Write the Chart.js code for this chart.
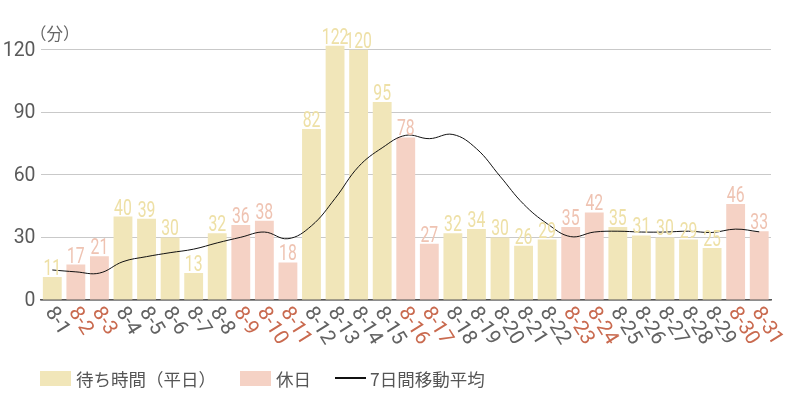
<!DOCTYPE html>
<html><head><meta charset="utf-8">
<script src="https://cdn.jsdelivr.net/npm/chart.js@4"></script>
<style>
html,body{margin:0;padding:0;background:#fff;}
#wrap{position:relative;width:800px;height:400px;}
#legend{position:absolute;left:0;top:367px;width:800px;height:22px;font-family:"Noto Sans CJK JP",sans-serif;font-size:17.5px;color:#555;}
#legend .it{position:absolute;top:0;display:flex;align-items:center;height:22px;white-space:nowrap;}
#legend .bx{width:31px;height:15px;margin-right:5px;}
#legend .ln{width:31px;height:2px;background:#111;margin-right:4px;}
</style></head>
<body><div id="wrap"><canvas id="c"></canvas><div id="legend"></div></div>
<script>
const dayLabels = ['8-1','8-2','8-3','8-4','8-5','8-6','8-7','8-8','8-9','8-10','8-11','8-12','8-13','8-14','8-15','8-16','8-17','8-18','8-19','8-20','8-21','8-22','8-23','8-24','8-25','8-26','8-27','8-28','8-29','8-30','8-31'];
const waitMinutes = [11,17,21,40,39,30,13,32,36,38,18,82,122,120,95,78,27,32,34,30,26,29,35,42,35,31,30,29,25,46,33];
const holidayDays = ['8-2','8-3','8-9','8-10','8-11','8-16','8-17','8-23','8-24','8-30','8-31'];
const movingAvg7 = [14.4,13.5,12.9,18.4,20.8,22.7,24.4,27.4,30.1,32.6,29.4,35.6,48.7,64.0,73.0,79.0,77.4,79.4,72.6,59.4,46.0,36.6,30.4,32.6,33.0,32.6,32.6,33.0,32.4,34.0,32.7];
const yTicks = [0,30,60,90,120];
const seriesNames = ['待ち時間（平日）','休日','7日間移動平均'];
const unitLabel = '（分）';

const weekdayColor = '#f1e6b9', holidayColor = '#f5d2c5';
const weekdayText = '#eee0a6', holidayText = '#efc3b2';
const tickGray = '#5a5a5a', xGray = '#626262', tickRed = '#c96a4f';
const numFont = 'Roboto,"Noto Sans",sans-serif';

const isHol = d => holidayDays.includes(d);
const weekdayData = waitMinutes.map((v,i)=> isHol(dayLabels[i]) ? null : v);
const holidayData = waitMinutes.map((v,i)=> isHol(dayLabels[i]) ? v : null);

function narrowText(ctx, text, x, y, sx){
  ctx.save();
  ctx.translate(x, y);
  ctx.scale(sx, 1);
  ctx.fillText(text, 0, 0);
  ctx.restore();
}

const labelPlugin = {
  id:'labels',
  afterDatasetsDraw(chart){
    const ctx = chart.ctx;
    const x = chart.scales.x, y = chart.scales.y;
    ctx.save();
    // data labels
    ctx.font = '22.5px ' + numFont;
    ctx.textAlign = 'center'; ctx.textBaseline = 'alphabetic';
    [0,1].forEach(di=>{
      const meta = chart.getDatasetMeta(di);
      meta.data.forEach((bar,i)=>{
        const v = chart.data.datasets[di].data[i];
        if (v == null) return;
        ctx.fillStyle = di===0 ? weekdayText : holidayText;
        narrowText(ctx, String(v), bar.x, bar.y - 2, 0.7);
      });
    });
    // y tick labels
    ctx.font = '20px ' + numFont;
    ctx.textAlign = 'right'; ctx.textBaseline = 'middle';
    ctx.fillStyle = tickGray;
    y.ticks.forEach(t=>{
      narrowText(ctx, String(t.value), x.left - 5, y.getPixelForValue(t.value) + 1, 0.97);
    });
    // x tick labels rotated
    ctx.font = '20.5px ' + numFont;
    ctx.textAlign = 'left'; ctx.textBaseline = 'middle';
    dayLabels.forEach((d,i)=>{
      const px = x.getPixelForTick(i);
      ctx.save();
      ctx.translate(px - 3, x.top + 9);
      ctx.rotate(58*Math.PI/180);
      ctx.fillStyle = isHol(d) ? tickRed : xGray;
      ctx.fillText(d, 0, 0);
      ctx.restore();
    });
    // unit label
    ctx.font = '16.5px "Noto Sans CJK JP",sans-serif';
    ctx.fillStyle = '#666'; ctx.textAlign='left'; ctx.textBaseline='middle';
    ctx.fillText(unitLabel, 30, 34);
    ctx.restore();
  }
};

const chart = new Chart(document.getElementById('c'), {
  type:'bar',
  data:{
    labels: dayLabels,
    datasets:[
      {label:seriesNames[0], data:weekdayData, backgroundColor:weekdayColor, grouped:false, barPercentage:0.8, categoryPercentage:1, order:2},
      {label:seriesNames[1], data:holidayData, backgroundColor:holidayColor, grouped:false, barPercentage:0.8, categoryPercentage:1, order:2},
      {label:seriesNames[2], type:'line', data:movingAvg7, borderColor:'#111', borderWidth:1, pointRadius:0, tension:0.4, fill:false, order:1}
    ]
  },
  options:{
    responsive:true, maintainAspectRatio:false, animation:false,
    layout:{padding:{left:0,right:29,top:29,bottom:0}},
    plugins:{legend:{display:false}, tooltip:{enabled:false}},
    scales:{
      x:{
        grid:{display:false},
        border:{display:true,color:'#555',width:1.5},
        ticks:{display:false},
        afterFit(s){ s.height = 100; }
      },
      y:{
        min:0, max:130,
        afterBuildTicks(s){ s.ticks = yTicks.map(v=>({value:v})); },
        afterFit(s){ s.width = 40.5; },
        grid:{color:'#c9c9c9', lineWidth:1, drawTicks:false},
        border:{display:false},
        ticks:{display:false}
      }
    }
  },
  plugins:[labelPlugin]
});

const lg = document.getElementById('legend');
[[seriesNames[0],'bx',weekdayColor,40],[seriesNames[1],'bx',holidayColor,240],[seriesNames[2],'ln',null,335]].forEach(([t,k,c,left])=>{
  const it = document.createElement('div'); it.className='it'; it.style.left = left + 'px';
  const m = document.createElement('span'); m.className=k; if(c) m.style.background=c;
  const s = document.createElement('span'); s.textContent=t;
  it.appendChild(m); it.appendChild(s); lg.appendChild(it);
});
</script></body></html>
